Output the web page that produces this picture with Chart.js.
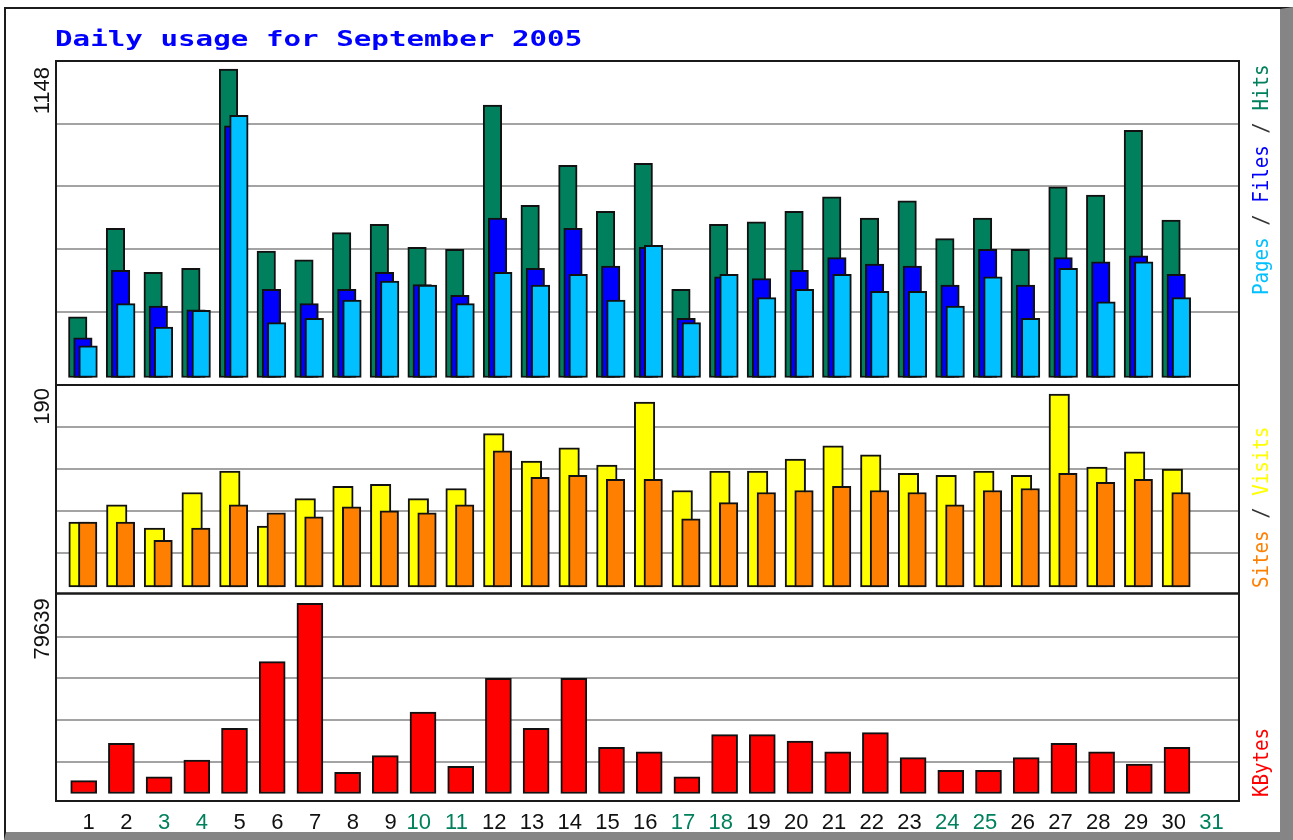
<!DOCTYPE html>
<html>
<head>
<meta charset="utf-8">
<script src="https://cdn.jsdelivr.net/npm/chart.js@4.4.1/dist/chart.umd.min.js"></script>
<style>
html,body{margin:0;padding:0;background:#fff;}
body{width:1293px;height:840px;position:relative;overflow:hidden;}
#frame{position:absolute;left:4px;top:7px;width:1289px;height:833px;box-sizing:border-box;
  border-left:2px solid #1c1c1c;border-top:2px solid #1c1c1c;border-right:13px solid #858585;border-bottom:8px solid #858585;}
#c{position:absolute;left:0;top:0;}
#title{position:absolute;left:55px;top:29px;font:bold 21px/21px 'DejaVu Sans Mono',monospace;color:#0000ff;
  transform:scaleX(1.39);transform-origin:0 0;white-space:nowrap;}
.side{position:absolute;left:1250px;font:22px/22px 'DejaVu Sans Mono',monospace;transform-origin:0 0;
  transform:rotate(-90deg) scaleX(0.87);white-space:nowrap;color:#333;}
</style>
</head>
<body>
<div id="frame"></div>
<canvas id="c" width="1293" height="840"></canvas>
<div id="title">Daily usage for September 2005</div>
<div class="side" style="top:295px"><span style="color:#00c0ff">Pages</span> / <span style="color:#0000ff">Files</span> / <span style="color:#00805c">Hits</span></div>
<div class="side" style="top:588px"><span style="color:#ff8000">Sites</span> / <span style="color:#ffff00">Visits</span></div>
<div class="side" style="top:797px"><span style="color:#ff0000">KBytes</span></div>
<script>
// ---------------- data ----------------
const dayLabels = ['1','2','3','4','5','6','7','8','9','10','11','12','13','14','15','16',
  '17','18','19','20','21','22','23','24','25','26','27','28','29','30','31'];
const weekendDays = [3,4,10,11,17,18,24,25,31];

const hits   = [226,555,391,406,1148,470,438,539,570,484,477,1014,641,790,618,797,328,570,579,618,672,593,657,517,593,477,710,679,920,586];
const files  = [148,399,266,252,937,328,275,328,391,346,306,593,406,555,415,484,220,375,368,399,446,422,415,344,477,344,446,430,453,384];
const pages  = [118,275,188,250,976,204,220,288,359,344,275,391,344,384,288,492,204,384,297,328,384,321,321,266,375,220,406,282,430,297];
const visits = [64,81,58,93,114,60,87,99,101,87,97,151,124,137,120,182,95,114,114,126,139,130,112,110,114,110,190,118,133,116];
const sites  = [64,64,46,58,81,73,69,79,75,73,81,134,108,110,106,106,67,83,93,95,99,95,93,81,95,97,112,103,106,93];
const kbytes = [5360,21020,7030,14030,27300,55190,79639,8870,15830,34120,11390,48230,27300,48230,19340,17500,
  7030,24620,24620,21980,17500,25460,14990,9710,9710,14990,21020,17500,12350,19340];

// ---------------- layout / style ----------------
const PLOT_LEFT = 56, PLOT_RIGHT = 1239, PLOT_TOP = 61, PLOT_BOTTOM = 801;
const BAR_STEP = 37.7, LABEL_STEP = 37.75, SINGLE_DIGIT_SHIFT = 9.7 / 37.75;
const GREEN = '#00805c';

function xRange(firstPx, step) {
  const min = 1 + (PLOT_LEFT - firstPx) / step;
  return { min, max: min + (PLOT_RIGHT - PLOT_LEFT) / step };
}
function hiddenX(firstPx) {
  return Object.assign({ type: 'linear', position: 'bottom', display: false, offset: false, bounds: 'data',
    grid: { display: false, offset: false } }, xRange(firstPx, BAR_STEP));
}
const pts = arr => arr.map((v, i) => ({ x: i + 1, y: v }));

function bar(label, values, color, xId, yId, thick) {
  return { label, data: pts(values), backgroundColor: color, borderColor: '#111', borderWidth: 2,
    borderSkipped: false, barThickness: thick, grouped: false, xAxisID: xId, yAxisID: yId };
}

function yAxis(c) {
  const labelValue = c.max0 + c.nudge;
  return {
    type: 'linear', position: 'left', stack: 'panels', stackWeight: c.sw, weight: c.w,
    min: c.min, max: c.max, bounds: 'data', offset: false,
    afterBuildTicks: s => { s.ticks = [labelValue, ...c.grid].map(v => ({ value: v })); },
    afterFit: s => { s.width = PLOT_LEFT; },
    border: { display: false },
    grid: { drawTicks: false, lineWidth: 2,
      color: ctx => (ctx.tick && ctx.tick.value === labelValue) ? 'rgba(0,0,0,0)' : '#a3a3a3' },
    ticks: { autoSkip: false, minRotation: 90, maxRotation: 90, padding: 13.5, color: '#111',
      font: { family: 'Liberation Sans', size: 22 },
      callback: v => v === labelValue ? String(c.max0) : '' }
  };
}

const framePlugin = {
  id: 'panelFrames',
  afterDraw(chart) {
    const { ctx, chartArea: a } = chart;
    ctx.save();
    ctx.strokeStyle = '#1a1a1a';
    ctx.lineWidth = 2;
    ['yTop', 'yMid', 'yBot'].forEach(id => {
      const s = chart.scales[id];
      ctx.strokeRect(a.left, s.top, a.right - a.left, s.bottom - s.top);
    });
    ctx.restore();
  }
};

new Chart(document.getElementById('c'), {
  type: 'bar',
  data: {
    datasets: [
      bar('Pages', pages, '#00c0ff', 'xPages', 'yTop', 18.5),
      bar('Files', files, '#0000ff', 'xFiles', 'yTop', 18.5),
      bar('Hits', hits, GREEN, 'xHits', 'yTop', 18.5),
      bar('Sites', sites, '#ff8000', 'xSites', 'yMid', 18.5),
      bar('Visits', visits, '#ffff00', 'xVisits', 'yMid', 20.5),
      bar('KBytes', kbytes, '#ff0000', 'xKB', 'yBot', 26)
    ]
  },
  options: {
    responsive: false, animation: false, devicePixelRatio: 1,
    layout: { padding: { left: 0, top: PLOT_TOP, right: 1293 - PLOT_RIGHT, bottom: 0 }, autoPadding: false },
    plugins: { legend: { display: false }, tooltip: { enabled: false }, title: { display: false } },
    scales: {
      xHits: hiddenX(77.75),
      xFiles: hiddenX(82.9),
      xPages: hiddenX(88.1),
      xVisits: hiddenX(79.05),
      xSites: hiddenX(87.7),
      xKB: hiddenX(83.7),
      xLabels: Object.assign({
        type: 'linear', position: 'bottom', bounds: 'data', offset: false,
        grid: { display: false, drawTicks: false, offset: false }, border: { display: false },
        afterBuildTicks: s => { s.ticks = dayLabels.map((t, i) => ({ value: i + 1 + (t.length < 2 ? SINGLE_DIGIT_SHIFT : 0) })); },
        afterFit: s => { s.height = 840 - PLOT_BOTTOM; },
        ticks: { autoSkip: false, maxRotation: 0, minRotation: 0, padding: 9,
          font: { family: 'Liberation Sans', size: 22 },
          color: ctx => weekendDays.includes(ctx.index + 1) ? GREEN : '#111',
          callback: (v, i) => dayLabels[i] }
      }, xRange(79, LABEL_STEP)),
      yTop: yAxis({ sw: 324, w: 3, min: -27.9, max: 1177.8, max0: Math.max(...hits), nudge: 7.4,
        grid: [944.6, 711.4, 478.2, 245.0] }),
      yMid: yAxis({ sw: 208.5, w: 2, min: -6.4, max: 198.86, max0: Math.max(...visits), nudge: 5.9,
        grid: [157.2, 115.9, 74.8, 33.5] }),
      yBot: yAxis({ sw: 207.5, w: 1, min: -3140, max: 83742, max0: Math.max(...kbytes), nudge: 2094,
        grid: [65654, 48235, 30650, 13064] })
    }
  },
  plugins: [framePlugin]
});
</script>
</body>
</html>
